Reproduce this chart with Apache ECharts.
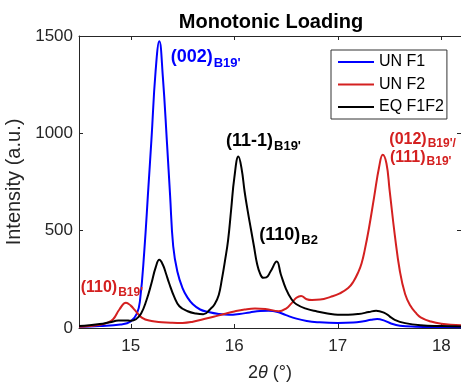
<!DOCTYPE html>
<html>
<head>
<meta charset="utf-8">
<script src="https://cdn.jsdelivr.net/npm/echarts@6/dist/echarts.min.js"></script>
<style>html,body{margin:0;padding:0;background:#fff;}#c{width:461px;height:384px;}</style>
</head>
<body>
<div id="c"></div>
<script>
// ---- data (2theta in degrees, intensity a.u.) ----
const seriesNames = ['UN F1', 'UN F2', 'EQ F1F2'];
const xTicks = [15, 16, 17, 18];
const yTicks = [0, 500, 1000, 1500];

const unF1 = [
  [14.5,6],[14.7,10],[14.9,18],[15.0,34],[15.06,75],[15.09,144],[15.13,390],[15.17,720],[15.2,970],
  [15.24,1320],[15.276,1473],[15.31,1290],[15.35,950],[15.38,680],[15.41,420],[15.45,290],[15.5,205],
  [15.55,155],[15.6,122],[15.67,95],[15.75,82],[15.85,72],[15.95,68],[16.05,72],[16.15,80],[16.25,87],
  [16.33,88],[16.42,82],[16.5,66],[16.6,48],[16.7,36],[16.8,30],[17.0,26],[17.15,28],[17.25,35],
  [17.32,42],[17.38,46],[17.45,38],[17.52,22],[17.6,12],[17.75,7],[18.0,5],[18.19,4]
];
const unF2 = [
  [14.5,6],[14.6,10],[14.7,16],[14.78,28],[14.83,45],[14.89,95],[14.954,130],[15.0,115],[15.04,92],
  [15.11,52],[15.2,36],[15.3,30],[15.4,27],[15.5,26],[15.6,32],[15.7,45],[15.8,58],[15.9,72],
  [16.0,85],[16.1,95],[16.2,100],[16.3,98],[16.43,86],[16.5,100],[16.55,125],[16.6,155],[16.645,165],
  [16.7,148],[16.75,144],[16.83,146],[16.93,160],[17.02,178],[17.1,205],[17.15,238],[17.2,290],
  [17.23,333],[17.26,400],[17.3,510],[17.35,670],[17.4,830],[17.434,890],[17.47,845],[17.5,710],
  [17.55,480],[17.6,290],[17.65,175],[17.7,115],[17.75,80],[17.8,55],[17.9,33],[18.0,22],[18.19,14]
];
const eqF1F2 = [
  [14.5,10],[14.6,14],[14.7,20],[14.8,30],[14.88,38],[14.95,39],[15.0,37],[15.05,45],[15.1,75],
  [15.15,140],[15.2,230],[15.24,310],[15.276,350],[15.31,325],[15.34,280],[15.37,231],[15.42,160],
  [15.47,112],[15.55,86],[15.63,74],[15.7,70],[15.77,98],[15.81,122],[15.85,170],[15.88,250],
  [15.91,345],[15.94,450],[15.97,610],[16.0,770],[16.04,881],[16.07,820],[16.1,700],[16.13,600],
  [16.16,510],[16.19,420],[16.22,330],[16.25,278],[16.28,258],[16.31,260],[16.35,290],[16.41,341],
  [16.45,275],[16.5,200],[16.55,150],[16.6,122],[16.7,98],[16.8,85],[16.9,75],[17.0,68],[17.1,68],
  [17.2,72],[17.3,82],[17.37,89],[17.45,78],[17.5,60],[17.55,42],[17.65,25],[17.8,14],[18.0,10],[18.19,8]
];

// ---- styling ----
const FONT = '"Liberation Sans", Arial, Helvetica, sans-serif';
const AX = '#262626';
const BLUE = '#0000ff', RED = '#d42020', BLACK = '#000000';

const chart = echarts.init(document.getElementById('c'), null, {renderer: 'canvas'});

const measureCtx = document.createElement('canvas').getContext('2d');
function textWidth(t, size) {
  measureCtx.font = 'bold ' + size + 'px ' + FONT;
  return measureCtx.measureText(t).width;
}
function txt(x, y, text, size, color) {
  return {
    type: 'text', x: x, y: y, silent: true, z: 100,
    style: {text: text, fill: color, font: 'bold ' + size + 'px ' + FONT, align: 'left', verticalAlign: 'middle'}
  };
}
// label with subscript: main text then subscript right after it
function label(x, baseline, main, sub, size, subSize, drop, color) {
  const w = textWidth(main, size);
  return [
    txt(x, baseline - 0.3465 * size, main, size, color),
    txt(x + w + 1, baseline + drop - 0.3465 * subSize, sub, subSize, color)
  ];
}

const axisCommon = {
  type: 'value', min: 14.5, max: 18.19,
  axisLine: {show: true, onZero: false, lineStyle: {color: AX, width: 1}},
  splitLine: {show: false}
};

chart.setOption({
  animation: false,
  backgroundColor: '#fff',
  grid: {left: 79, top: 36, width: 382, height: 292, containLabel: false, outerBoundsMode: 'none'},
  xAxis: [
    Object.assign({}, axisCommon, {
      position: 'bottom',
      name: '2{i|θ} (°)', nameLocation: 'middle', nameGap: 36,
      nameTextStyle: {fontFamily: FONT, fontSize: 18, color: AX,
        rich: {i: {fontFamily: FONT, fontSize: 18, fontStyle: 'italic', color: AX}}},
      axisTick: {show: true, inside: true, length: 4, customValues: xTicks, lineStyle: {color: AX}},
      axisLabel: {show: true, margin: 10, customValues: xTicks, fontFamily: FONT, fontSize: 17, color: AX}
    }),
    Object.assign({}, axisCommon, {
      position: 'top',
      axisTick: {show: true, inside: true, length: 4, customValues: xTicks, lineStyle: {color: AX}},
      axisLabel: {show: false}
    })
  ],
  yAxis: [
    {
      type: 'value', min: 0, max: 1500, interval: 500, position: 'left',
      name: 'Intensity (a.u.)', nameLocation: 'middle', nameGap: 50,
      nameTextStyle: {fontFamily: FONT, fontSize: 20, color: AX},
      axisLine: {show: true, lineStyle: {color: AX, width: 1}},
      axisTick: {show: true, inside: true, length: 4, lineStyle: {color: AX}},
      axisLabel: {show: true, margin: 6, fontFamily: FONT, fontSize: 17, color: AX,
        formatter: function (v) { return String(v); }},
      splitLine: {show: false}
    },
    {
      type: 'value', min: 0, max: 1500, interval: 500, position: 'right',
      axisLine: {show: true, lineStyle: {color: AX, width: 1}},
      axisTick: {show: true, inside: true, length: 4, lineStyle: {color: AX}},
      axisLabel: {show: false},
      splitLine: {show: false}
    }
  ],
  legend: {
    left: 331, top: 50, orient: 'vertical',
    data: seriesNames,
    icon: 'rect', itemWidth: 36, itemHeight: 2, itemGap: 6.5,
    padding: [4, 3, 4, 7],
    borderColor: '#333', borderWidth: 1, backgroundColor: '#fff',
    textStyle: {fontFamily: FONT, fontSize: 16, color: '#000'}
  },
  series: [
    {name: seriesNames[0], type: 'line', data: unF1, smooth: 0.45, symbol: 'none', color: BLUE,
     lineStyle: {width: 2, color: BLUE}, xAxisIndex: 0, yAxisIndex: 0, z: 2},
    {name: seriesNames[1], type: 'line', data: unF2, smooth: 0.45, symbol: 'none', color: RED,
     lineStyle: {width: 2, color: RED}, xAxisIndex: 0, yAxisIndex: 0, z: 3},
    {name: seriesNames[2], type: 'line', data: eqF1F2, smooth: 0.45, symbol: 'none', color: BLACK,
     lineStyle: {width: 2, color: BLACK}, xAxisIndex: 0, yAxisIndex: 0, z: 4}
  ],
  graphic: [
    {type: 'text', x: 271, y: 12, silent: true, z: 100,
     style: {text: 'Monotonic Loading', fill: '#000', font: 'bold 20px ' + FONT, align: 'center', verticalAlign: 'top'}}
  ].concat(
    label(170.7, 63.3, '(002)', "B19'", 18, 13, 4.2, BLUE),
    label(226, 147.7, '(11-1)', "B19'", 18, 13, 3.3, BLACK),
    label(259.3, 241.7, '(110)', 'B2', 18, 13, 3.3, BLACK),
    label(389.3, 145, '(012)', "B19'/", 16, 12, 3, RED),
    label(390, 163.3, '(111)', "B19'", 16, 12, 3, RED),
    label(80.7, 293.3, '(110)', "B19'", 16, 12, 3.5, RED)
  )
});
</script>
</body>
</html>
